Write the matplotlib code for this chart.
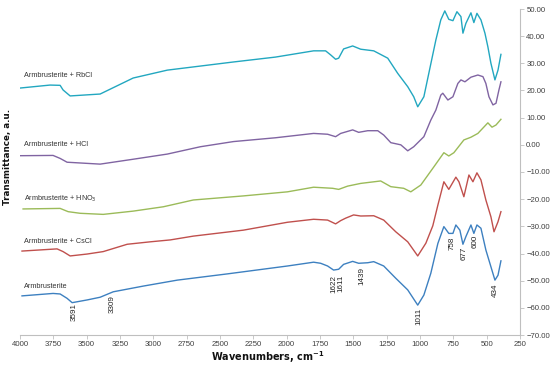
import matplotlib
matplotlib.use("Agg")
import matplotlib.pyplot as plt
from matplotlib.ticker import FuncFormatter, MultipleLocator

# FTIR spectra (wavenumber cm-1, transmittance a.u.)
wn_rbcl = [4000, 3775, 3699, 3677, 3624, 3399, 3151, 2895, 2399, 2084, 1798, 1708, 1670, 1633,
           1610, 1573, 1505, 1445, 1347, 1242, 1167, 1092, 1047, 1017, 971, 934, 881, 844, 814,
           784, 753, 723, 693, 678, 656, 618, 596, 573, 543, 513, 491, 468, 438, 415, 393]
t_rbcl = [20.9, 22.0, 21.9, 20.2, 18.0, 18.7, 24.6, 27.5, 30.5, 32.3, 34.6, 34.6, 33.1, 31.5,
          31.9, 35.3, 36.4, 35.2, 34.6, 31.9, 26.3, 21.4, 17.7, 14.0, 17.7, 26.3, 38.6, 46.0, 49.3,
          46.2, 45.7, 49.0, 47.2, 41.1, 44.7, 48.6, 45.0, 48.4, 46.0, 41.1, 36.1, 30.0, 23.9, 27.5, 33.3]

wn_hcl = [4000, 3752, 3699, 3647, 3399, 3151, 2895, 2647, 2399, 2084, 1798, 1693, 1633, 1595,
          1505, 1460, 1392, 1317, 1272, 1219, 1144, 1092, 1047, 971, 919, 881, 844, 829, 791,
          753, 716, 693, 663, 618, 566, 528, 506, 483, 453, 430, 408, 393]
t_hcl = [-4.0, -3.9, -5.0, -6.4, -7.1, -5.3, -3.4, -0.7, 1.2, 2.6, 4.2, 3.9, 3.0, 4.2,
         5.5, 4.6, 5.2, 5.2, 3.6, 0.8, 0.0, -2.2, -0.7, 3.0, 9.1, 12.8, 18.3, 19.0, 16.5,
         17.7, 22.6, 23.9, 23.2, 24.9, 25.7, 25.1, 22.6, 17.7, 14.7, 15.3, 20.2, 23.2]

wn_hno3 = [3977, 3699, 3639, 3549, 3376, 3151, 2925, 2700, 2324, 1994, 1798, 1655, 1610, 1543,
           1445, 1295, 1219, 1122, 1069, 994, 896, 821, 784, 746, 671, 618, 566, 491, 460, 430, 393]
t_hno3 = [-23.6, -23.4, -24.6, -25.2, -25.6, -24.4, -22.8, -20.3, -18.8, -17.3, -15.6, -16.0,
          -16.4, -15.2, -14.2, -13.3, -15.4, -16.0, -17.3, -14.8, -8.1, -2.9, -4.1, -2.9, 1.8,
          2.8, 4.2, 8.1, 6.5, 7.3, 9.4]

wn_cscl = [3985, 3722, 3677, 3624, 3497, 3376, 3196, 3023, 2873, 2700, 2324, 1994, 1798, 1693,
           1633, 1595, 1558, 1498, 1445, 1347, 1272, 1182, 1092, 1017, 956, 904, 866, 821, 784,
           731, 708, 671, 633, 603, 573, 543, 506, 468, 445, 415, 393]
t_cscl = [-39.1, -38.3, -39.3, -40.9, -40.2, -39.3, -36.6, -35.7, -35.0, -33.6, -31.4, -28.5,
          -27.4, -27.7, -29.1, -27.9, -27.0, -25.8, -26.2, -26.1, -27.7, -32.0, -35.7, -40.9,
          -36.2, -29.8, -22.2, -13.6, -16.4, -11.9, -13.6, -19.1, -11.1, -13.6, -10.3, -12.9,
          -20.3, -26.5, -32.0, -28.3, -24.6]

wn_arm = [3985, 3752, 3699, 3647, 3609, 3497, 3399, 3301, 3076, 2820, 2444, 1994, 1798, 1745,
          1693, 1648, 1610, 1573, 1505, 1460, 1392, 1347, 1272, 1182, 1092, 1017, 971, 919, 866,
          821, 784, 753, 731, 701, 678, 656, 618, 596, 573, 543, 506, 468, 438, 415, 393]
t_arm = [-55.6, -54.7, -54.9, -56.5, -58.1, -57.1, -56.1, -54.1, -52.0, -49.8, -47.5, -44.6,
         -43.2, -43.6, -44.6, -46.1, -45.8, -44.0, -42.9, -43.6, -43.4, -43.0, -44.6, -49.1,
         -53.4, -59.0, -55.3, -47.3, -36.3, -30.1, -32.6, -32.6, -29.5, -31.4, -36.6, -33.8,
         -29.5, -32.6, -29.5, -30.7, -38.7, -44.9, -49.8, -48.0, -42.7]

series_names = ["Armbrusterite + RbCl", "Armbrusterite + HCl", "Armbrusterite + HNO$_3$",
                "Armbrusterite + CsCl", "Armbrusterite"]
label_levels = [25.5, 0.3, -20.0, -35.4, -52.2]

# band labels under the Armbrusterite curve: (text, wavenumber, level of label top)
peak_labels = ["3591", "3309", "1622", "1611", "1439", "1011", "758", "677", "600", "434"]
peak_wn = [3591, 3309, 1648, 1595, 1437, 1009, 761, 671, 588, 438]
peak_top = [-58.4, -55.3, -47.9, -47.9, -45.0, -60.1, -33.9, -37.6, -33.2, -50.9]

colors = ["#22a7c0", "#8064a2", "#9bbb59", "#c0504d", "#3d80c0"]

fig = plt.figure(figsize=(5.5, 3.67), dpi=100)
ax = fig.add_axes([20 / 550, 32 / 367, 500 / 550, 326 / 367])

curves = [(wn_rbcl, t_rbcl), (wn_hcl, t_hcl), (wn_hno3, t_hno3), (wn_cscl, t_cscl), (wn_arm, t_arm)]
for (x, y), c in zip(curves, colors):
    ax.plot(x, y, color=c, lw=1.0, solid_joinstyle="round")

for name, lvl in zip(series_names, label_levels):
    ax.text(3970, lvl, name, fontsize=5.2, color="#333333", ha="left", va="center",
            family="Liberation Sans")

for txt, w, top in zip(peak_labels, peak_wn, peak_top):
    ax.text(w, top, txt, rotation=90, fontsize=5.8, ha="center", va="top",
            color="#222222", family="Liberation Sans")

ax.set_xlim(4000, 250)
ax.set_ylim(-70, 50)
ax.xaxis.set_major_locator(MultipleLocator(250))
ax.yaxis.set_major_locator(MultipleLocator(10))
ax.yaxis.set_major_formatter(FuncFormatter(lambda v, p: ("%.2f" % v).replace("-", "\u2212")))
ax.yaxis.tick_right()

for s in ["top", "left"]:
    ax.spines[s].set_visible(False)
for s in ["bottom", "right"]:
    ax.spines[s].set_color("#bfbfbf")
    ax.spines[s].set_linewidth(0.8)

ax.tick_params(axis="both", labelsize=5.6, colors="#bfbfbf", labelcolor="#404040",
               length=3, width=0.6, pad=1.5)
for lab in ax.get_xticklabels() + ax.get_yticklabels():
    lab.set_family("Liberation Sans")

fig.text(268 / 550, 1 - 357 / 367, "Wavenumbers, cm$^{\\mathbf{-1}}$", ha="center", va="center",
         fontsize=7, fontweight="bold", color="#111111")
fig.text(8 / 550, 1 - 157 / 367, "Transmittance, a.u.", rotation=90, ha="center", va="center",
         fontsize=6.3, fontweight="bold", color="#111111")

fig.savefig("out.png", dpi=100)
